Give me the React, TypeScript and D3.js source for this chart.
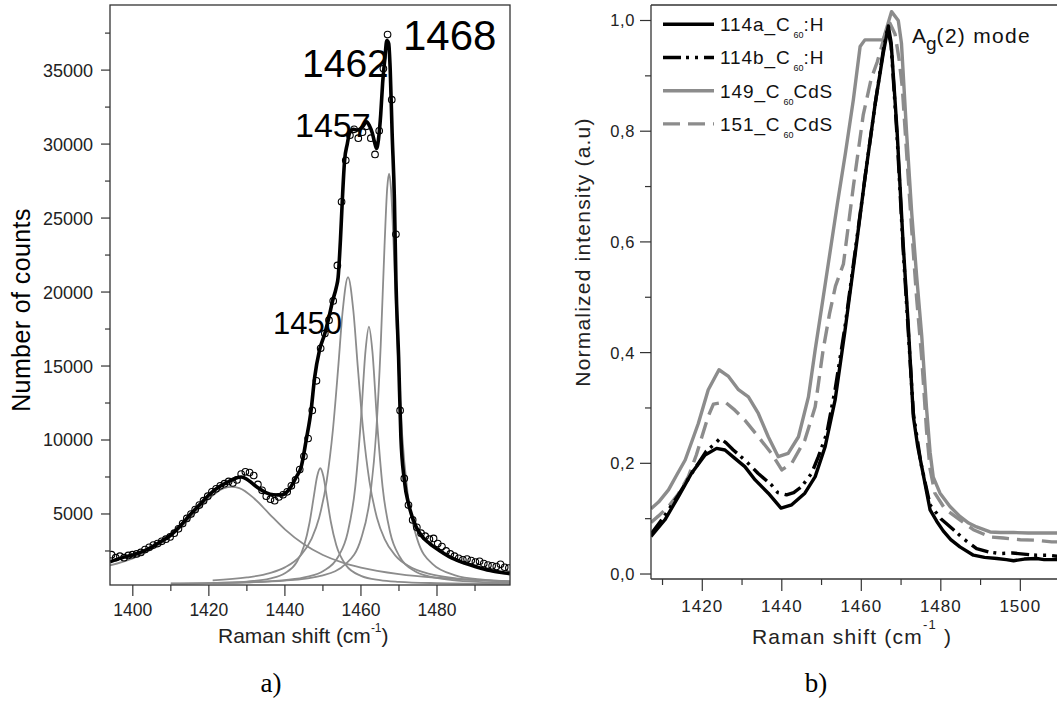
import React from 'react';
import * as d3 from 'd3';

// ---------- Panel a): measured spectrum, total fit and fitted components ----------
const measShift = [1394.4,1395.5,1396.6,1397.7,1398.8,1399.9,1401.0,1402.1,1403.2,1404.3,1405.4,1406.5,1407.6,1408.7,1409.8,1410.9,1412.0,1413.1,1414.2,1415.3,1416.4,1417.5,1418.6,1419.7,1420.8,1421.9,1423.0,1424.1,1425.2,1426.3,1427.4,1428.5,1429.6,1430.7,1431.8,1432.9,1434.0,1435.1,1436.2,1437.3,1438.4,1439.5,1440.6,1441.7,1442.8,1443.9,1445.0,1446.1,1447.2,1448.3,1449.4,1450.5,1451.6,1452.7,1453.8,1454.9,1456.0,1457.1,1458.2,1459.3,1460.4,1461.5,1462.6,1463.7,1464.8,1465.9,1467.0,1468.1,1469.2,1470.3,1471.4,1472.5,1473.6,1474.7,1475.8,1476.9,1478.0,1479.1,1480.2,1481.3,1482.4,1483.5,1484.6,1485.7,1486.8,1487.9,1489.0,1490.1,1491.2,1492.3,1493.4,1494.5,1495.6,1496.7,1497.8,1498.9];
const measCounts = [2250,2050,2150,2050,2200,2250,2300,2400,2600,2750,2900,3000,3150,3300,3450,3700,4000,4350,4700,5000,5300,5600,5900,6200,6500,6700,6900,7050,7200,7100,7300,7700,7850,7800,7600,7000,6600,6200,6000,5900,6150,6300,6500,6900,7300,8000,8900,10100,12000,14000,16200,17200,18100,19400,21800,26100,28900,30600,31000,30400,30800,31200,30400,29300,30900,35100,37400,33000,23900,12000,7400,5600,4600,4100,3700,3500,3300,3350,3000,2800,2500,2300,2150,2000,1900,1950,1850,1750,1800,1650,1550,1500,1450,1600,1400,1350];

const fitShift = [1394,1396,1398,1400,1402.5,1405,1407.5,1410,1412.5,1415,1417.5,1420,1422.5,1425,1427,1428.5,1430,1431.5,1433,1435,1437,1439,1441,1443,1444.3,1445.6,1446.9,1447.8,1449.1,1450.5,1451.5,1452.6,1453.5,1454.0,1454.6,1455.1,1455.7,1456.4,1457,1458,1459.1,1460.5,1461.5,1462.3,1463,1463.6,1464.1,1464.6,1465.2,1465.7,1466.3,1466.8,1467.3,1467.7,1468.2,1468.8,1469.2,1469.9,1470.5,1471.4,1472.7,1474.5,1476,1478,1480.5,1483.2,1486.5,1490.2,1494,1498.5,1499.2];
const fitCounts = [1760,1950,2100,2230,2450,2770,3150,3580,4200,4930,5600,6280,6800,7160,7420,7500,7350,7050,6760,6450,6300,6280,6620,7500,8200,10000,12030,14190,16080,17200,18200,19460,20300,21000,23500,26200,28900,30000,30740,31000,30950,31200,31500,31200,30740,30100,29700,30300,32000,34120,35800,37000,36800,35000,30740,26220,20800,15630,10220,7300,5490,4140,3500,3020,2550,2120,1750,1440,1180,990,960];

const comp1426Shift = [1394,1400,1405,1410,1415,1420,1424,1426,1428,1432,1436,1440,1445,1450,1455,1460,1470,1480,1490,1499.2];
const comp1426Counts = [1520,2000,2620,3500,4700,6030,6750,6830,6750,6030,4980,3960,2950,2230,1730,1380,940,690,540,450];

const comp1450Shift = [1410,1420,1430,1436,1440,1443,1445,1446.5,1447.5,1448.5,1449.3,1450.1,1451.1,1452.1,1453.5,1456,1460,1465,1470,1480,1490,1499.2];
const comp1450Counts = [295,331,435,630,989,1700,2815,4440,6015,7570,8090,7570,6015,4440,2900,1560,821,526,411,324,292,278];

const comp1457Shift = [1421,1430,1436,1440,1444,1447,1449,1451,1452.6,1454,1455.2,1456.6,1458,1459.2,1460.6,1462.2,1464.2,1466.2,1469,1473,1478,1485,1492,1499.2];
const comp1457Counts = [509,709,1004,1389,2149,3318,4750,7260,10625,14837,18735,21000,18735,14837,10625,7260,4750,3318,2206,1415,950,654,512,433];

const comp1462Shift = [1421,1430,1440,1446,1450,1454,1456.5,1458.5,1460,1461.2,1462.1,1463,1464.2,1465.7,1467.7,1470.2,1474.2,1478.2,1484,1492,1499.2];
const comp1462Counts = [330,381,525,761,1135,2108,3732,6812,11392,16025,17660,16025,11392,6812,3732,2108,1135,761,530,401,350];

const comp1468Shift = [1410,1425,1440,1450,1456,1460,1462.5,1464,1465.2,1466.2,1466.9,1467.4,1467.9,1468.6,1469.6,1470.8,1472.3,1474.8,1478.8,1484.8,1492,1499.2];
const comp1468Counts = [307,354,498,856,1622,3300,6346,10490,16420,23120,27010,28000,27010,23120,16420,10490,6346,3300,1622,856,556,437];

const peakLabels = ['1468', '1462', '1457', '1450'];

const aXMajor = [1400, 1420, 1440, 1460, 1480];
const aXMinor = [1410, 1430, 1450, 1470, 1490];
const aYMajor = [5000, 10000, 15000, 20000, 25000, 30000, 35000];
const aYMinor = [2500, 7500, 12500, 17500, 22500, 27500, 32500, 37500];

// ---------- Panel b): normalized A_g(2) spectra ----------
const s114aShift = [1407.1,1410.6,1414,1417.3,1420.7,1423.6,1425.7,1428.2,1430.7,1433.3,1436.6,1439.8,1442.5,1445.8,1448.4,1450.9,1453.4,1455.9,1458.4,1461,1463.5,1465.5,1466.8,1467.5,1469,1470.5,1471.8,1473.1,1474.2,1475.2,1477.3,1479,1480.6,1482.5,1484.8,1488.2,1491,1494.1,1496.5,1498.3,1501,1504.1,1506,1509.3];
const s114aInt = [0.068,0.098,0.14,0.182,0.215,0.227,0.224,0.209,0.194,0.17,0.146,0.119,0.125,0.146,0.176,0.23,0.314,0.44,0.575,0.72,0.85,0.94,0.99,0.96,0.8,0.6,0.45,0.284,0.23,0.194,0.116,0.095,0.078,0.062,0.049,0.034,0.03,0.028,0.026,0.024,0.027,0.028,0.026,0.026];

const s114bShift = [1407.1,1410.5,1414,1417,1419,1421,1422.8,1424.5,1426,1427.8,1430.7,1434,1437.4,1439,1441.2,1443,1445,1447.5,1449.2,1451.3,1453.4,1455.9,1458.4,1461,1463.5,1465.5,1466.6,1467.5,1469,1470.5,1471.8,1473.1,1475,1477.3,1480,1483.2,1486,1489,1492,1494.9,1498,1500.8,1504,1507,1509.3];
const s114bInt = [0.072,0.105,0.143,0.178,0.2,0.222,0.233,0.245,0.237,0.224,0.206,0.182,0.161,0.147,0.143,0.147,0.158,0.182,0.212,0.254,0.333,0.447,0.58,0.72,0.85,0.945,0.985,0.955,0.79,0.59,0.44,0.29,0.2,0.125,0.1,0.08,0.062,0.046,0.04,0.037,0.038,0.036,0.034,0.034,0.032];

const s149Shift = [1407.1,1409,1411.5,1413.5,1415.7,1419,1421.5,1424.2,1426.6,1429.1,1431.6,1434.1,1436.6,1439.1,1441.6,1444.2,1446.7,1448.4,1450,1452,1454,1456,1458,1459.7,1460.9,1465.5,1467.6,1469.3,1470.1,1471.4,1472.7,1473.9,1475.2,1476.4,1477.3,1478.1,1479.8,1482.3,1484.8,1487,1489,1492.4,1495,1498.3,1502,1505,1509.3];
const s149Int = [0.118,0.13,0.152,0.178,0.206,0.272,0.333,0.369,0.357,0.333,0.32,0.29,0.248,0.212,0.218,0.248,0.32,0.405,0.48,0.575,0.67,0.76,0.857,0.953,0.965,0.965,1.016,1.0,0.959,0.796,0.65,0.54,0.43,0.3,0.22,0.175,0.146,0.122,0.104,0.092,0.085,0.076,0.075,0.075,0.074,0.074,0.074];

const s151Shift = [1407.1,1409,1411.5,1414,1416.5,1418.5,1419.9,1421.5,1422.8,1425.7,1428.2,1430.7,1434.1,1437.4,1440,1442.5,1445.8,1448.4,1450.4,1452,1453.5,1455.5,1458,1460.5,1462.5,1464,1466,1467.2,1468.5,1469.5,1470.3,1471.4,1472.7,1473.9,1475.2,1476.4,1477.3,1478.5,1481,1484.8,1488.2,1492.4,1495.7,1500,1504.1,1507.9,1509.3];
const s151Int = [0.093,0.105,0.122,0.145,0.176,0.215,0.248,0.285,0.307,0.311,0.296,0.278,0.248,0.218,0.188,0.2,0.242,0.302,0.405,0.47,0.52,0.56,0.7,0.83,0.895,0.925,0.975,0.995,0.975,0.93,0.88,0.76,0.62,0.5,0.39,0.26,0.19,0.146,0.118,0.098,0.08,0.067,0.065,0.062,0.061,0.058,0.058];

const bXMajor = [1420, 1440, 1460, 1480, 1500];
const bXMinor = [1410, 1430, 1450, 1470, 1490];
const bYMajor = [0, 0.2, 0.4, 0.6, 0.8, 1.0];
const bYMinor = [0.1, 0.3, 0.5, 0.7, 0.9];

const legendIds = ['114a', '114b', '149', '151'];
const legendSuffix = [':H', ':H', 'CdS', 'CdS'];

const SANS = 'Liberation Sans, Arial, Helvetica, sans-serif';
const GRAY = '#8c8c8c';
const AXIS = '#333';

export default function App() {
  // panel a
  const ax = d3.scaleLinear().domain([1394, 1499.2]).range([110, 510]);
  const ay = d3.scaleLinear().domain([200, 39400]).range([585, 5]);
  const aLine = (xs: number[], ys: number[], curve = d3.curveMonotoneX) =>
    d3.line<number>().x((_, i) => ax(xs[i])).y((d) => ay(d)).curve(curve)(ys) || '';

  // panel b
  const bx = d3.scaleLinear().domain([1407.1, 1509.3]).range([651, 1057.3]);
  const by = d3.scaleLinear().domain([-0.009, 1.028]).range([579, 5]);
  const bLine = (xs: number[], ys: number[]) =>
    d3.line<number>().x((_, i) => bx(xs[i])).y((d) => by(d)).curve(d3.curveLinear)(ys) || '';

  const comps: [number[], number[]][] = [
    [comp1426Shift, comp1426Counts],
    [comp1450Shift, comp1450Counts],
    [comp1457Shift, comp1457Counts],
    [comp1462Shift, comp1462Counts],
    [comp1468Shift, comp1468Counts],
  ];

  const bSeries = [
    { xs: s151Shift, ys: s151Int, color: GRAY, dash: '17 8' },
    { xs: s149Shift, ys: s149Int, color: GRAY, dash: undefined },
    { xs: s114bShift, ys: s114bInt, color: '#000', dash: '18 5 3 6 3 6' },
    { xs: s114aShift, ys: s114aInt, color: '#000', dash: undefined },
  ];
  const legendStyle = [
    { color: '#000', dash: undefined },
    { color: '#000', dash: '18 5 3 6 3 6' },
    { color: GRAY, dash: undefined },
    { color: GRAY, dash: '17 8' },
  ];

  const fmtB = (v: number) => d3.format('.1f')(v).replace('.', ',');
  const peakPos = [
    { x: 403, y: 50, size: 42 },
    { x: 302, y: 77, size: 39 },
    { x: 295, y: 137, size: 34 },
    { x: 273, y: 334, size: 31 },
  ];

  return (
    <svg width={1057} height={702} style={{ position: 'absolute', left: 0, top: 0, background: '#fff' }}
      fontFamily={SANS}>
      <defs>
        <clipPath id="clipA"><rect x={110} y={5} width={400} height={580} /></clipPath>
        <clipPath id="clipB"><rect x={651} y={5} width={410} height={574} /></clipPath>
      </defs>
      <rect x={0} y={0} width={1057} height={702} fill="#fff" />

      {/* ================= Panel a ================= */}
      <g clipPath="url(#clipA)">
        {comps.map(([xs, ys], i) => (
          <path key={i} d={aLine(xs, ys)} fill="none" stroke={GRAY} strokeWidth={1.8} />
        ))}
        <path d={aLine(fitShift, fitCounts)} fill="none" stroke="#000" strokeWidth={3.6} strokeLinejoin="round" />
        {measShift.map((s, i) => (
          <circle key={i} cx={ax(s)} cy={ay(measCounts[i])} r={3.3} fill="none" stroke="#000" strokeWidth={1.1} />
        ))}
      </g>
      <rect x={110} y={5} width={400} height={580} fill="none" stroke={AXIS} strokeWidth={1.3} />
      {aYMajor.map((v) => (
        <g key={v}>
          <line x1={101} x2={110} y1={ay(v)} y2={ay(v)} stroke={AXIS} strokeWidth={1.2} />
          <text x={93} y={ay(v)} dy="0.36em" textAnchor="end" fontSize={18} fill="#222">{v}</text>
        </g>
      ))}
      {aYMinor.map((v) => (
        <line key={v} x1={105} x2={110} y1={ay(v)} y2={ay(v)} stroke={AXIS} strokeWidth={1.2} />
      ))}
      {aXMajor.map((v) => (
        <g key={v}>
          <line x1={ax(v)} x2={ax(v)} y1={585} y2={596} stroke={AXIS} strokeWidth={1.2} />
          <text x={ax(v)} y={616} textAnchor="middle" fontSize={17.5} fill="#222">{v}</text>
        </g>
      ))}
      {aXMinor.map((v) => (
        <line key={v} x1={ax(v)} x2={ax(v)} y1={585} y2={591} stroke={AXIS} strokeWidth={1.2} />
      ))}
      <text x={218} y={643} fontSize={21} fill="#222">
        Raman shift (cm<tspan dy={-11} fontSize={12}>-1</tspan><tspan dy={11}>)</tspan>
      </text>
      <text transform="translate(30,310) rotate(-90)" textAnchor="middle" fontSize={25} letterSpacing={0.4} fill="#000">
        Number of counts
      </text>
      {peakLabels.map((t, i) => (
        <text key={t} x={peakPos[i].x} y={peakPos[i].y} fontSize={peakPos[i].size} fill="#000">{t}</text>
      ))}
      <text x={271} y={692} textAnchor="middle" fontSize={27} fontFamily="Liberation Serif, DejaVu Serif, serif">a)</text>

      {/* ================= Panel b ================= */}
      <g clipPath="url(#clipB)">
        {bSeries.map((s, i) => (
          <path key={i} d={bLine(s.xs, s.ys)} fill="none" stroke={s.color} strokeWidth={3.4}
            strokeDasharray={s.dash} strokeLinejoin="round" />
        ))}
      </g>
      <line x1={651} x2={1057} y1={5} y2={5} stroke={AXIS} strokeWidth={1.3} />
      <line x1={651} x2={651} y1={5} y2={579} stroke={AXIS} strokeWidth={1.3} />
      <line x1={651} x2={1057} y1={579} y2={579} stroke={AXIS} strokeWidth={1.3} />
      {bYMajor.map((v) => (
        <g key={v}>
          <line x1={640} x2={651} y1={by(v)} y2={by(v)} stroke={AXIS} strokeWidth={1.2} />
          <text x={635} y={by(v)} dy="0.36em" textAnchor="end" fontSize={16.5} letterSpacing={0.6} fill="#222">{fmtB(v)}</text>
        </g>
      ))}
      {bYMinor.map((v) => (
        <line key={v} x1={645} x2={651} y1={by(v)} y2={by(v)} stroke={AXIS} strokeWidth={1.2} />
      ))}
      {bXMajor.map((v) => (
        <g key={v}>
          <line x1={bx(v)} x2={bx(v)} y1={579} y2={591} stroke={AXIS} strokeWidth={1.2} />
          <text x={bx(v)} y={612} textAnchor="middle" fontSize={17} letterSpacing={1} fill="#222">{v}</text>
        </g>
      ))}
      {bXMinor.map((v) => (
        <line key={v} x1={bx(v)} x2={bx(v)} y1={579} y2={585} stroke={AXIS} strokeWidth={1.2} />
      ))}
      <text x={752} y={644} fontSize={21} letterSpacing={1.2} fill="#222">
        Raman shift (cm<tspan dy={-15} fontSize={13}>-1</tspan><tspan dy={15}> )</tspan>
      </text>
      <text transform="translate(590,252) rotate(-90)" textAnchor="middle" fontSize={21} letterSpacing={1.2} fill="#222">
        Normalized intensity (a.u)
      </text>

      {/* legend */}
      {legendIds.map((id, i) => {
        const yLine = 24.3 + i * 33.2;
        return (
          <g key={id}>
            <line x1={663} x2={714} y1={yLine} y2={yLine} stroke={legendStyle[i].color} strokeWidth={3.4}
              strokeDasharray={legendStyle[i].dash} />
            <text x={720} y={yLine + 6.8} fontSize={19} letterSpacing={0.9} fill="#111">
              {id}_C<tspan dx={3} dy={7} fontSize={9} letterSpacing={0}>60</tspan><tspan dy={-7}>{legendSuffix[i]}</tspan>
            </text>
          </g>
        );
      })}
      <text x={912} y={43} fontSize={21} fill="#111">
        A<tspan dy={7} fontSize={19}>g</tspan><tspan dy={-7} letterSpacing={1.3}>(2) mode</tspan>
      </text>
      <text x={816} y={692} textAnchor="middle" fontSize={27} fontFamily="Liberation Serif, DejaVu Serif, serif">b)</text>
    </svg>
  );
}
